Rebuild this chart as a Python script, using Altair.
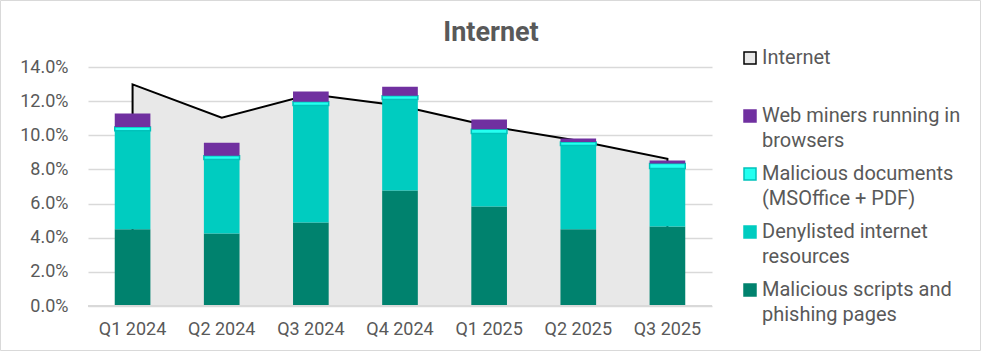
import altair as alt
import pandas as pd

# ---- data (percent) ----
QUARTERS = ["Q1 2024", "Q2 2024", "Q3 2024", "Q4 2024", "Q1 2025", "Q2 2025", "Q3 2025"]
INTERNET = [12.98, 11.03, 12.40, 11.73, 10.54, 9.68, 8.62]
SCRIPTS = [4.49, 4.25, 4.89, 6.77, 5.83, 4.49, 4.66]
DENYLISTED = [5.78, 4.33, 6.85, 5.32, 4.27, 4.91, 3.39]
DOCUMENTS = [0.21, 0.22, 0.23, 0.23, 0.26, 0.21, 0.30]
MINERS = [0.79, 0.77, 0.59, 0.53, 0.56, 0.20, 0.17]
Y_TICKS = [0, 2, 4, 6, 8, 10, 12, 14]

SERIES = [
    "Internet",
    "Web miners running in browsers",
    "Malicious documents (MSOffice + PDF)",
    "Denylisted internet resources",
    "Malicious scripts and phishing pages",
]
LEGEND_LINES = [
    ["Internet", " "],
    ["Web miners running in", "browsers"],
    ["Malicious documents", "(MSOffice + PDF)"],
    ["Denylisted internet", "resources"],
    ["Malicious scripts and", "phishing pages"],
]
FILLS = ["#E8E8E8", "#7030A0", "#24FFF0", "#00CCC0", "#00826E"]
STROKES = ["#000000", "#7030A0", "#00C2BA", "#00CCC0", "#00826E"]

TEXT = "#595959"
GRID = "#D9D9D9"
FONT = "Roboto"

rows = []
for i, q in enumerate(QUARTERS):
    for order, (name, vals) in enumerate(
        [(SERIES[4], SCRIPTS), (SERIES[3], DENYLISTED), (SERIES[2], DOCUMENTS), (SERIES[1], MINERS)]
    ):
        rows.append({"quarter": q, "series": name, "value": vals[i], "order": order})
bars_df = pd.DataFrame(rows)
area_df = pd.DataFrame({"quarter": QUARTERS, "value": INTERNET, "series": ["Internet"] * len(QUARTERS)})
one_df = pd.DataFrame({"a": [0]})

expr = "datum.label"
for name, lines in reversed(list(zip(SERIES, LEGEND_LINES))):
    expr = f"datum.label == {name!r} ? {lines!r} : ({expr})"

legend = alt.Legend(
    title=None,
    orient="none",
    legendX=652,
    legendY=-19,
    symbolType="square",
    symbolSize=144,
    symbolStrokeWidth=1.5,
    labelFont=FONT,
    labelFontSize=20,
    labelColor=TEXT,
    labelOffset=2,
    labelLimit=400,
    rowPadding=13,
    padding=0,
    labelExpr=expr,
)

x_enc = alt.X(
    "quarter:N",
    sort=QUARTERS,
    scale=alt.Scale(paddingInner=0.6, paddingOuter=0.3),
    axis=alt.Axis(
        title=None, labelFont=FONT, labelFontSize=18, labelColor=TEXT, ticks=False,
        domain=False, labelPadding=14, labelAngle=0, grid=False,
    ),
)
y_axis = alt.Axis(
    title=None, values=Y_TICKS, tickCount=8, labelExpr="format(datum.value, '.1f') + '%'",
    labelFont=FONT, labelFontSize=18, labelColor=TEXT, ticks=False, domain=False,
    gridColor=GRID, gridWidth=1.5, labelPadding=20, labelOverlap=False,
)
y_scale = alt.Scale(domain=[0, 14])
fill_enc = alt.Fill("series:N", scale=alt.Scale(domain=SERIES, range=FILLS), legend=legend)
stroke_enc = alt.Stroke("series:N", scale=alt.Scale(domain=SERIES, range=STROKES), legend=legend)

area = alt.Chart(area_df).mark_area(strokeWidth=2).encode(
    x=x_enc,
    y=alt.Y("value:Q", scale=y_scale, axis=y_axis),
    fill=fill_enc,
    stroke=stroke_enc,
)

bars = alt.Chart(bars_df).mark_bar().encode(
    x=x_enc,
    y=alt.Y("value:Q", stack="zero", scale=y_scale, axis=y_axis),
    fill=fill_enc,
    stroke=stroke_enc,
    strokeWidth=alt.condition(alt.datum.series == SERIES[2], alt.value(1.5), alt.value(0)),
    order=alt.Order("order:Q"),
)

baseline = alt.Chart(one_df).mark_rule(color=GRID, strokeWidth=2).encode(
    y=alt.Y(datum=0, scale=y_scale, axis=y_axis)
)

frame = alt.Chart(one_df).mark_rect(fill="transparent", stroke=GRID, strokeWidth=1).encode(
    x=alt.value(-87.5), x2=alt.value(624 + 268.5), y=alt.value(-66.5), y2=alt.value(239 + 44.5)
)

chart = alt.layer(area, bars, baseline, frame).properties(
    width=624,
    height=239,
    padding={"left": 88, "top": 67, "right": 270, "bottom": 46},
    autosize=alt.AutoSizeParams(type="none"),
    background="white",
    title=alt.TitleParams(
        "Internet", font=FONT, fontSize=27, fontWeight="bold", color=TEXT,
        anchor="middle", dx=91, offset=10, dy=57,
    ),
).configure(
    view=alt.ViewConfig(stroke=None),
    style={"guide-label": {"lineHeight": 24.5}},
)

chart.save("out.html", embed_options={"renderer": "svg", "actions": False})
